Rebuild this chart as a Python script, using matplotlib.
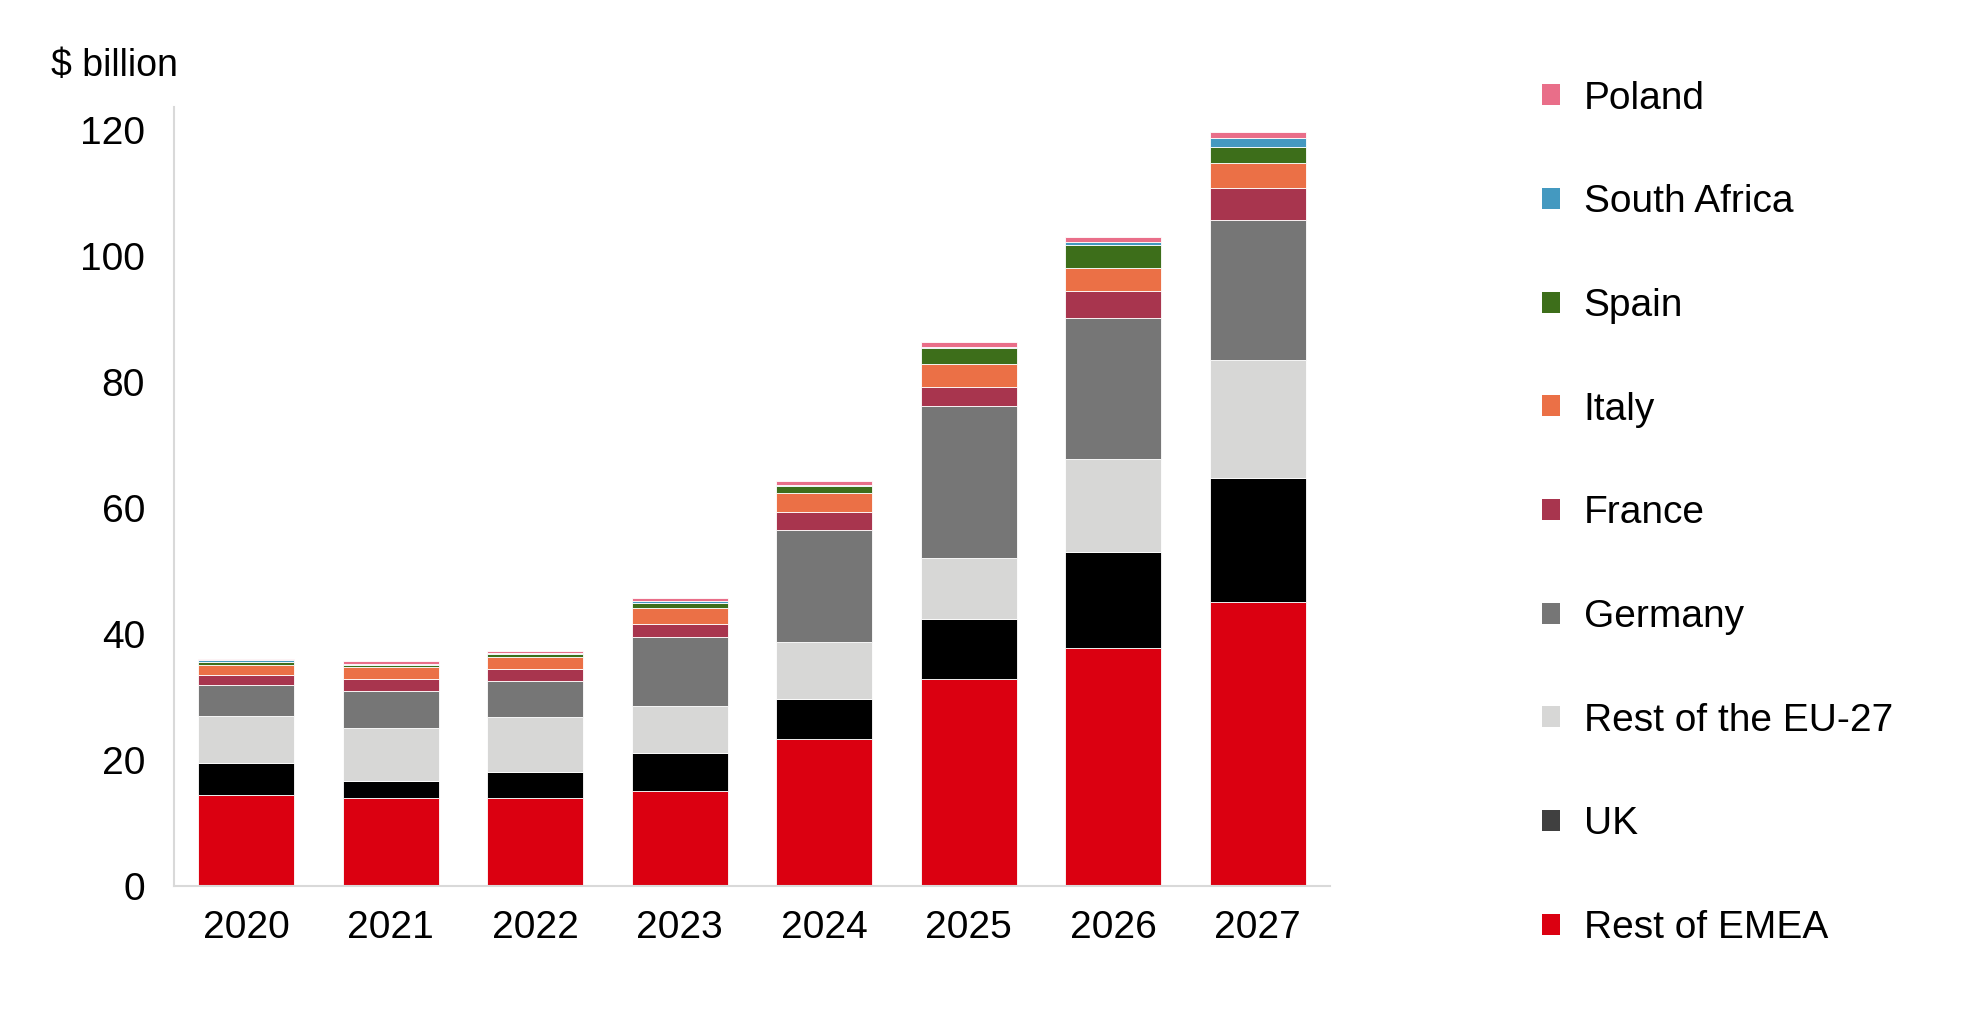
import matplotlib
matplotlib.use('Agg')
import matplotlib.pyplot as plt
from matplotlib.patches import Patch
import numpy as np

years = ['2020', '2021', '2022', '2023', '2024', '2025', '2026', '2027']

# stacked from the bottom up, $ billion
rest_emea = [14.4, 14.0, 14.0, 15.1, 23.3, 32.8, 37.7, 45.1]
uk        = [5.1, 2.6, 4.1, 6.0, 6.4, 9.6, 15.3, 19.6]
rest_eu   = [7.4, 8.4, 8.7, 7.5, 9.0, 9.7, 14.7, 18.7]
germany   = [5.0, 6.0, 5.8, 10.9, 17.8, 24.1, 22.5, 22.2]
france    = [1.6, 1.9, 1.8, 2.1, 2.9, 3.0, 4.2, 5.2]
italy     = [1.6, 1.8, 1.9, 2.5, 3.0, 3.6, 3.7, 3.9]
spain     = [0.5, 0.4, 0.5, 0.8, 1.0, 2.5, 3.6, 2.5]
s_africa  = [0.2, 0.2, 0.2, 0.3, 0.3, 0.3, 0.5, 1.5]
poland    = [0.2, 0.4, 0.3, 0.5, 0.5, 0.7, 0.8, 1.0]

series = [
    ('Rest of EMEA', rest_emea, '#db0011', '#db0011'),
    ('UK', uk, '#000000', '#404040'),
    ('Rest of the EU-27', rest_eu, '#d7d7d6', '#d7d7d6'),
    ('Germany', germany, '#767676', '#767676'),
    ('France', france, '#a8354e', '#a8354e'),
    ('Italy', italy, '#eb7046', '#eb7046'),
    ('Spain', spain, '#3d6e1a', '#3d6e1a'),
    ('South Africa', s_africa, '#4499c0', '#4499c0'),
    ('Poland', poland, '#e96e89', '#e96e89'),
]

plt.rcParams['font.family'] = ['Liberation Sans', 'DejaVu Sans']

fig = plt.figure(figsize=(19.8, 10.09), dpi=100)
fig.patch.set_facecolor('w')
ax = fig.add_axes([0.0879, 0.1219, 0.5838, 0.772])

x = np.arange(len(years))
bottom = np.zeros(len(years))
handles = []
for name, vals, col, lcol in series:
    ax.bar(x, vals, width=0.665, bottom=bottom, color=col,
           edgecolor='#ffffff', linewidth=0.6)
    bottom += np.array(vals)
    handles.append(Patch(facecolor=lcol, edgecolor='none', label=name))

ax.set_xlim(-0.5, 7.5)
ax.set_ylim(0, 123.6)
ax.set_yticks([0, 20, 40, 60, 80, 100, 120])
ax.set_xticks(x)
ax.set_xticklabels(years)
ax.tick_params(axis='both', length=0, labelsize=28)
ax.tick_params(axis='x', pad=17)
ax.tick_params(axis='y', pad=21)
for s in ['top', 'right']:
    ax.spines[s].set_visible(False)
for s in ['left', 'bottom']:
    ax.spines[s].set_color('#d9d9d9')
    ax.spines[s].set_linewidth(1.5)

fig.text(51 / 1980, 1 - 66 / 1009, '$ billion', fontsize=27, va='center', ha='left')

fig.legend(handles=handles[::-1], loc='upper left',
           bbox_to_anchor=(0.779, 0.92), frameon=False, fontsize=28,
           handlelength=0.46, handleheight=0.46, handletextpad=0.6,
           labelspacing=1.74, borderpad=0, borderaxespad=0)

fig.savefig('out.png', dpi=100, facecolor='w')
